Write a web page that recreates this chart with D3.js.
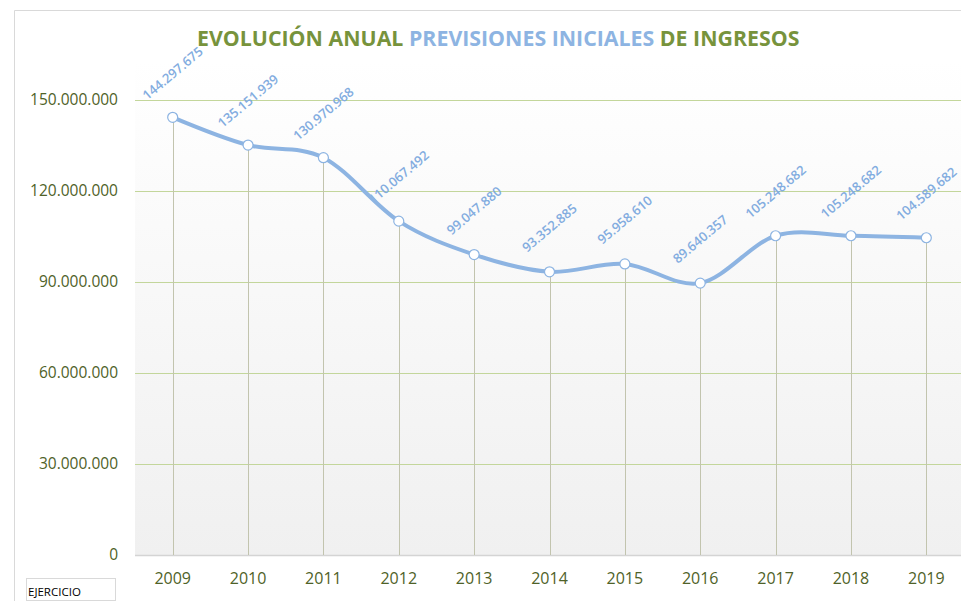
<!DOCTYPE html>
<html lang="es">
<head>
<meta charset="UTF-8">
<title>Evolución anual previsiones iniciales de ingresos</title>
<script src="https://d3js.org/d3.v7.min.js"></script>
<style>
    body { margin: 0; background: #fff; }
    svg { display: block; font-family: "Open Sans", sans-serif; }
    .ytick { fill: #4f6228; font-size: 15.5px; }
    .xtick { fill: #4f6228; font-size: 16px; }
    .vlabel { fill: #82ace0; font-size: 13px; font-weight: 600; }
</style>
</head>
<body>
<svg id="canvas" width="961" height="601"></svg>
<script>
    // data
    let years = ["2009","2010","2011","2012","2013","2014","2015","2016","2017","2018","2019"];
    let values = [144297675, 135151939, 130970968, 110067492, 99047880, 93352885,
                  95958610, 89640357, 105248682, 105248682, 104589682];
    let yTicks = [0, 30000000, 60000000, 90000000, 120000000, 150000000];

    let svg = d3.select('#canvas');
    let W = 961, H = 601;
    let plotLeft = 135, plotRight = 964, plotTop = 100, plotBottom = 555;

    let es = d3.formatLocale({decimal: ",", thousands: ".", grouping: [3], currency: ["", "€"]});
    let fmt = es.format(",d");

    let x = d3.scalePoint().domain(years).range([plotLeft, plotRight]).padding(0.5);
    let y = d3.scaleLinear().domain([0, 150000000]).range([plotBottom, plotTop]);

    // frame
    svg.append('path')
        .attr('d', `M14.5,${H} V10.5 H${W}`)
        .attr('fill', 'none').attr('stroke', '#d9d9d9');

    // plot background gradient
    let grad = svg.append('defs').append('linearGradient')
        .attr('id', 'bg').attr('x1', 0).attr('y1', 0).attr('x2', 0).attr('y2', 1);
    grad.append('stop').attr('offset', '0%').attr('stop-color', '#ffffff');
    grad.append('stop').attr('offset', '100%').attr('stop-color', '#f0f0f0');
    svg.append('rect')
        .attr('x', plotLeft).attr('y', 60).attr('width', W - plotLeft).attr('height', plotBottom - 60)
        .attr('fill', 'url(#bg)');

    // horizontal gridlines
    svg.append('g').selectAll('line')
        .data(yTicks.filter(d => d > 0))
        .join('line')
        .attr('x1', plotLeft).attr('x2', W)
        .attr('y1', d => Math.round(y(d)) + 0.5).attr('y2', d => Math.round(y(d)) + 0.5)
        .attr('stroke', '#c3d69b');
    svg.append('line')
        .attr('x1', plotLeft).attr('x2', W)
        .attr('y1', plotBottom + 0.5).attr('y2', plotBottom + 0.5)
        .attr('stroke', '#d4d4d4').attr('stroke-width', 1.5);

    // y tick labels
    svg.append('g').selectAll('text')
        .data(yTicks)
        .join('text')
        .attr('class', 'ytick')
        .attr('x', 118).attr('y', d => y(d)).attr('dy', '0.35em')
        .attr('text-anchor', 'end')
        .text(d => d === 0 ? "0" : fmt(d));

    // x tick labels
    svg.append('g').selectAll('text')
        .data(years)
        .join('text')
        .attr('class', 'xtick')
        .attr('x', d => x(d)).attr('y', 584)
        .attr('text-anchor', 'middle')
        .text(d => d);

    // drop lines
    svg.append('g').selectAll('line')
        .data(years)
        .join('line')
        .attr('x1', d => Math.round(x(d)) + 0.5).attr('x2', d => Math.round(x(d)) + 0.5)
        .attr('y1', (d, i) => y(values[i])).attr('y2', plotBottom)
        .attr('stroke', '#c2c4ae');

    // data labels
    svg.append('g').selectAll('text')
        .data(years)
        .join('text')
        .attr('class', 'vlabel')
        .attr('text-anchor', 'middle')
        .attr('dy', '0.35em')
        .attr('transform', (d, i) => `translate(${x(d)},${y(values[i]) - 44}) rotate(-40)`)
        .text((d, i) => fmt(values[i]));

    // smoothed line
    let line = d3.line()
        .x(d => x(d[0])).y(d => y(d[1]))
        .curve(d3.curveCardinal.tension(0));
    svg.append('path')
        .datum(years.map((d, i) => [d, values[i]]))
        .attr('d', line)
        .attr('fill', 'none')
        .attr('stroke', '#8db4e2')
        .attr('stroke-width', 4)
        .attr('stroke-linecap', 'round');

    // markers
    svg.append('g').selectAll('circle')
        .data(years)
        .join('circle')
        .attr('cx', d => x(d)).attr('cy', (d, i) => y(values[i]))
        .attr('r', 5)
        .attr('fill', '#fff')
        .attr('stroke', '#8db4e2')
        .attr('stroke-width', 1.2);

    // title
    let title = svg.append('text')
        .attr('y', 46)
        .attr('font-weight', 'bold')
        .attr('font-size', 21);
    title.append('tspan').attr('fill', '#77933c').text('EVOLUCIÓN ANUAL ');
    title.append('tspan').attr('fill', '#8db4e2').text('PREVISIONES INICIALES ');
    title.append('tspan').attr('fill', '#77933c').text('DE INGRESOS');
    let tw = title.node().getComputedTextLength();
    let sx = 603 / tw;
    title.attr('transform', `translate(197,0) scale(${sx},1)`);

    // EJERCICIO field button
    svg.append('rect')
        .attr('x', 26.5).attr('y', 578.5).attr('width', 89).attr('height', 22)
        .attr('fill', '#fff').attr('stroke', '#d9d9d9');
    svg.append('text')
        .attr('x', 28).attr('y', 596)
        .attr('font-size', 11.5).attr('fill', '#000')
        .text('EJERCICIO');
</script>
</body>
</html>
